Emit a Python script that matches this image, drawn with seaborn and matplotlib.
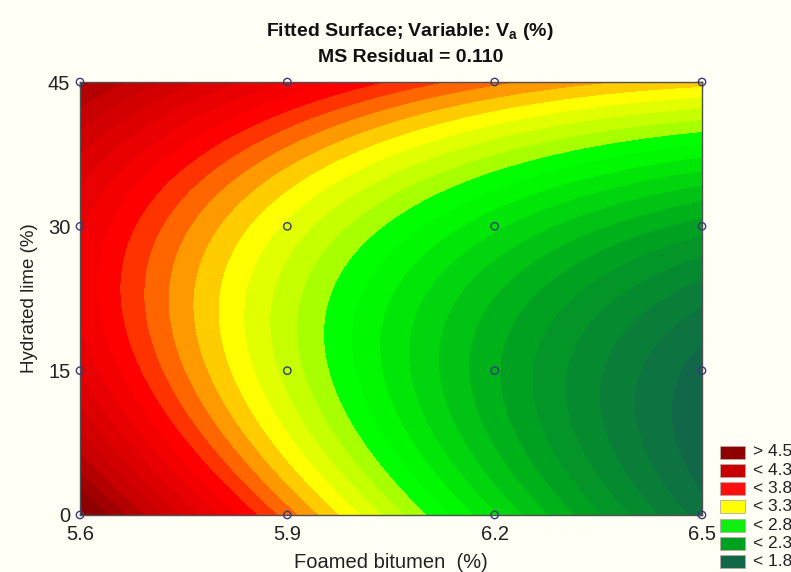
import numpy as np
import pandas as pd
import matplotlib
matplotlib.use("Agg")
import matplotlib.pyplot as plt
from matplotlib.patches import Rectangle
from matplotlib.colors import to_rgb
import seaborn as sns

# ---------------- data ----------------
bitumen = [5.6, 5.9, 6.2, 6.5]          # Foamed bitumen (%)
lime = [0, 15, 30, 45]                  # Hydrated lime (%)
# Va (%) at each design point: rows = lime, columns = bitumen
va_obs = [
    [4.75, 3.58, 2.60, 1.95],   # lime 0
    [3.95, 3.20, 2.36, 1.76],   # lime 15
    [3.92, 3.33, 2.67, 2.28],   # lime 30
    [4.55, 3.82, 3.58, 3.42],   # lime 45
]
legend_labels = ["> 4.5", "< 4.3", "< 3.8", "< 3.3", "< 2.8", "< 2.3", "< 1.8"]
legend_colors = ["#8e0000", "#c80000", "#ff1010", "#ffff00", "#10f010", "#00a020", "#106848"]
title1 = "Fitted Surface; Variable: V$_\\mathregular{a}$ (%)"
title2 = "MS Residual = 0.110"
xlabel = "Foamed bitumen  (%)"
ylabel = "Hydrated lime (%)"

# colour ramp used for the fine contour bands (style)
ramp_vals = [1.8, 2.3, 2.8, 2.9, 3.0, 3.3, 3.8, 4.3, 4.6]
ramp_cols = ["#106848", "#00a020", "#00f800", "#00ff00", "#a8ff00", "#ffff00", "#ff0000", "#c80000", "#8e0000"]

# ---------------- quadratic response surface fit ----------------
df = pd.DataFrame([(b, l, va_obs[i][j]) for i, l in enumerate(lime) for j, b in enumerate(bitumen)],
                  columns=["bitumen", "lime", "va"])

def design(b, l):
    u = (np.asarray(b) - 6.05) / 0.45
    v = (np.asarray(l) - 22.5) / 22.5
    return np.column_stack([np.ones_like(u), u, v, u * u, v * v, u * v])

coef, *_ = np.linalg.lstsq(design(df.bitumen.values, df.lime.values), df.va.values, rcond=None)

gx = np.linspace(min(bitumen), max(bitumen), 400)
gy = np.linspace(min(lime), max(lime), 400)
GX, GY = np.meshgrid(gx, gy)
GZ = (design(GX.ravel(), GY.ravel()) @ coef).reshape(GX.shape)

levels = np.arange(1.05, 5.96, 0.1)
mids = (levels[:-1] + levels[1:]) / 2
rc = np.array([to_rgb(c) for c in ramp_cols])
band_colors = [tuple(np.interp(m, ramp_vals, rc[:, k]) for k in range(3)) for m in mids]

# ---------------- figure ----------------
sns.set_theme(style="white")
plt.rcParams["font.family"] = ["Liberation Sans", "DejaVu Sans"]

W, H = 791, 572
bg = "#fffff6"
fig = plt.figure(figsize=(W / 100, H / 100), dpi=100, facecolor=bg)
ax = fig.add_axes([80 / W, 1 - 515 / H, 622 / W, 433 / H])
ax.set_facecolor(bg)

cs = ax.contourf(GX, GY, GZ, levels=levels, colors=band_colors, antialiased=False)
try:
    cs.set_edgecolor("face")
    cs.set_linewidth(0.3)
except Exception:
    pass

sns.scatterplot(data=df, x="bitumen", y="lime", ax=ax, s=28, color="#3a3a7a",
                edgecolor="#3a3a7a", linewidth=1.0, zorder=5, clip_on=False, legend=False)
ax.collections[-1].set_facecolor("none")

ax.set_xlim(min(bitumen), max(bitumen))
ax.set_ylim(min(lime), max(lime))
ax.set_xticks(bitumen)
ax.set_xticklabels([f"{b:.1f}" for b in bitumen])
ax.set_yticks(lime)
ax.set_yticklabels([str(l) for l in lime])
ax.tick_params(direction="in", length=4, width=1, top=True, right=True,
               labelsize=14.5, colors="#222222", pad=7)
for s in ax.spines.values():
    s.set_color("#505050")
    s.set_linewidth(1.0)

ax.set_xlabel(xlabel, fontsize=14.5, color="#222222")
ax.set_ylabel(ylabel, fontsize=13.5, color="#222222")
ax.xaxis.set_label_coords(0.5, (515 - 563) / 433)
ax.xaxis.label.set_va("center")
ax.yaxis.set_label_coords((30 - 80) / 622, 0.5)
ax.yaxis.label.set_va("center")

fig.text(410 / W, 1 - 31 / H, title1, ha="center", va="center", fontsize=14,
         fontweight="bold", color="#111111")
fig.text(411 / W, 1 - 57 / H, title2, ha="center", va="center", fontsize=14,
         fontweight="bold", color="#111111")

for i, (lab, col) in enumerate(zip(legend_labels, legend_colors)):
    yc = 452 + i * 18.3
    fig.patches.append(Rectangle((720 / W, 1 - (yc + 6.5) / H), 25 / W, 13 / H,
                                 transform=fig.transFigure, facecolor=col,
                                 edgecolor="#b8a8a8", linewidth=0.6))
    fig.text(753 / W, 1 - yc / H, lab, ha="left", va="center", fontsize=12.5, color="#222222")

fig.savefig("out.png", dpi=100, facecolor=bg)
